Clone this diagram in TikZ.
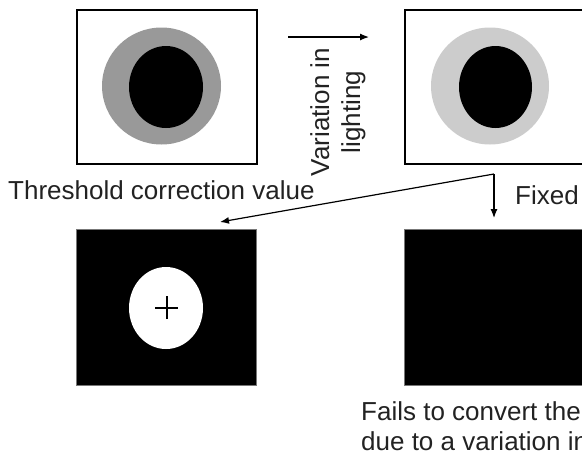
\documentclass[tikz,border=0pt]{standalone}
\usepackage{fontspec}
\setmainfont{Liberation Sans}
\usetikzlibrary{shapes.geometric,arrows.meta}
\definecolor{ringdark}{HTML}{999999}
\definecolor{ringlight}{HTML}{CCCCCC}
\definecolor{txtgray}{HTML}{222222}
\definecolor{edgegray}{HTML}{777777}
\begin{document}
\begin{tikzpicture}[x=1pt,y=-1pt,
  framebox/.style={draw=black, line width=2pt, fill=white, inner sep=0pt, anchor=north west, minimum height=154pt},
  darkbox/.style={draw=edgegray, line width=0.8pt, fill=black, inner sep=0pt, anchor=north west, minimum height=156pt},
  blob/.style={ellipse, draw=none, inner sep=0pt},
  lbl/.style={text=txtgray, inner sep=0pt, font=\fontsize{26}{31}\selectfont},
  arr/.style={draw=black, line width=1.2pt, -{Latex[length=9pt,width=7pt]}},
]
\useasboundingbox (0,0) rectangle (582,459);
\clip (0,0) rectangle (582,459);

% top left image
\node[framebox, minimum width=180pt] (tl) at (76,9) {};
\node[blob, fill=ringdark, minimum width=119pt, minimum height=117pt] (tlring) at (161.5,86) {};
\node[blob, fill=black, minimum width=74pt, minimum height=82pt] (tlcore) at (166,87) {};

% top right image
\node[framebox, minimum width=220pt] (tr) at (404,9) {};
\node[blob, fill=ringlight, minimum width=118pt, minimum height=117pt] (trring) at (490,86) {};
\node[blob, fill=black, minimum width=73pt, minimum height=82pt] (trcore) at (495.5,87) {};

% bottom left image
\node[darkbox, minimum width=180pt] (bl) at (76,229) {};
\node[blob, fill=white, minimum width=74pt, minimum height=82pt] (blhole) at (166,308) {};
\coordinate (cross) at (166.5,307.5);
\draw[line width=2pt, black] ([xshift=-11.5pt]cross) -- ([xshift=11.5pt]cross);
\draw[line width=2pt, black] ([yshift=-11.5pt]cross) -- ([yshift=11.5pt]cross);

% bottom right image
\node[darkbox, minimum width=220pt] (br) at (404,229) {};

% labels
\node[lbl, rotate=90, align=center] (vary) at (338,112) {Variation in\\lighting};
\node[lbl, anchor=base west] (thresh) at (8,199) {Threshold correction value};
\node[lbl, anchor=base west] (fixed) at (515,204) {Fixed};
\node[lbl, anchor=base west] (fails1) at (361,420) {Fails to convert the};
\node[lbl, anchor=base west] (fails2) at (361,450) {due to a variation in};

% connectors
\coordinate (a1) at (288,37);
\coordinate (a2) at (369,37);
\draw[arr] (a1) -- (a2);

\coordinate (junc) at (494,174);
\coordinate (downtip) at (494,218);
\coordinate (lefttip) at (220,222);
\draw[arr] (junc) -- (downtip);
\draw[arr] (junc) -- (lefttip);
\end{tikzpicture}
\end{document}
